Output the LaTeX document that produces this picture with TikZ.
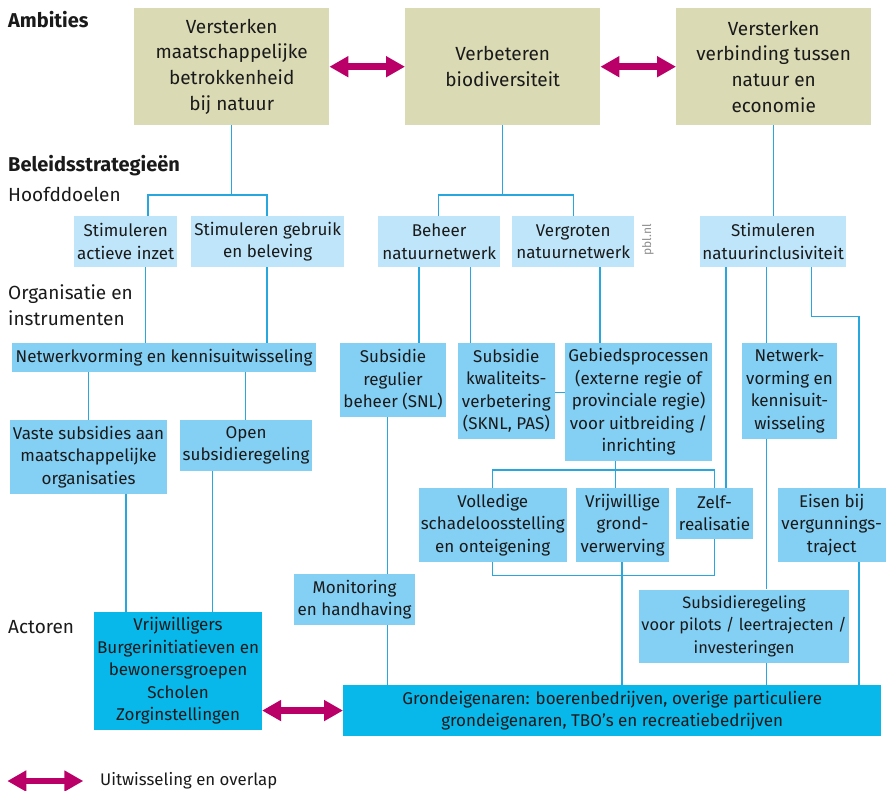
\documentclass[tikz,border=0pt]{standalone}
\usepackage{fontspec}
\setmainfont{Fira Sans}
\usetikzlibrary{arrows.meta}
\definecolor{khaki}{RGB}{218,218,180}
\definecolor{goalblue}{RGB}{190,229,249}
\definecolor{instblue}{RGB}{132,207,244}
\definecolor{actorblue}{RGB}{8,184,234}
\definecolor{linkblue}{RGB}{40,166,222}
\definecolor{exmagenta}{RGB}{186,0,104}
\definecolor{inktext}{RGB}{26,26,26}
\definecolor{creditgrey}{RGB}{140,140,140}

\begin{document}
\begin{tikzpicture}[x=1pt,y=-1pt,
  every node/.style={text=inktext},
  boxbase/.style={anchor=north west, inner sep=0pt, align=center, font=\fontsize{17}{22.5}\selectfont},
  ambbox/.style={boxbase, fill=khaki, font=\fontsize{19}{25.7}\selectfont},
  goalbox/.style={boxbase, fill=goalblue},
  instbox/.style={boxbase, fill=instblue},
  actorbox/.style={boxbase, fill=actorblue},
  link/.style={draw=linkblue, line width=1.4pt},
  exchange/.style={draw=exmagenta, line width=6.5pt,
    {Triangle[length=19pt,width=20pt]}-{Triangle[length=19pt,width=20pt]}},
  rowlabel/.style={anchor=west, inner sep=0pt, align=left, font=\fontsize{19}{26}\selectfont},
  rowhead/.style={rowlabel, font=\bfseries\fontsize{20}{26}\selectfont},
]
\useasboundingbox (0,0) rectangle (889,790);

% row labels
\node[rowhead] (lamb) at (8,20) {Ambities};
\node[rowhead] (lbel) at (8,166) {Beleidsstrategieën};
\node[rowlabel] (lhfd) at (8,194) {Hoofddoelen};
\node[rowlabel] (lorg) at (8,304.7) {Organisatie en\\instrumenten};
\node[rowlabel] (lact) at (8,626.7) {Actoren};

% ambitions
\node[ambbox, minimum width=195, minimum height=117] (amb1) at (134,8)
  {Versterken\\maatschappelijke\\betrokkenheid\\bij natuur};
\node[ambbox, minimum width=195, minimum height=117] (amb2) at (405,8)
  {Verbeteren\\biodiversiteit};
\node[ambbox, minimum width=195, minimum height=117] (amb3) at (676,8)
  {Versterken\\verbinding tussen\\natuur en\\economie};

% main goals
\node[goalbox, minimum width=103, minimum height=51] (hd1) at (74,216) {Stimuleren\\actieve inzet};
\node[goalbox, minimum width=153, minimum height=51] (hd2) at (191,216) {Stimuleren gebruik\\en beleving};
\node[goalbox, minimum width=122, minimum height=51] (hd3) at (378,216) {Beheer\\natuurnetwerk};
\node[goalbox, minimum width=122, minimum height=51] (hd4) at (512,216) {Vergroten\\natuurnetwerk};
\node[goalbox, minimum width=146, minimum height=51] (hd5) at (700,216) {Stimuleren\\natuurinclusiviteit};
\node[rotate=90, inner sep=0pt, text=creditgrey, font=\fontsize{12}{14}\selectfont] (credit) at (648,240) {pbl.nl};

% organisation and instruments
\node[instbox, minimum width=303.7, minimum height=29] (nw1) at (12,342.7) {Netwerkvorming en kennisuitwisseling};
\node[instbox, minimum width=105.7, minimum height=74] (snl) at (340,342.7) {Subsidie\\regulier\\beheer (SNL)};
\node[instbox, minimum width=97.7, minimum height=95.6] (kwal) at (457.3,342.7) {Subsidie\\kwaliteits-\\verbetering\\(SKNL, PAS)};
\node[instbox, minimum width=146.7, minimum height=118] (geb) at (565,342.7)
  {Gebiedsprocessen\\(externe regie of\\provinciale regie)\\voor uitbreiding /\\inrichting};
\node[instbox, minimum width=94.7, minimum height=95.6] (nw2) at (742,342.7) {Netwerk-\\vorming en\\kennisuit-\\wisseling};
\node[instbox, minimum width=156.7, minimum height=73.3] (vaste) at (10,420) {Vaste subsidies aan\\maatschappelijke\\organisaties};
\node[instbox, minimum width=131.7, minimum height=50.7] (open) at (180,420) {Open\\subsidieregeling};
\node[instbox, minimum width=148.4, minimum height=73.7] (voll) at (418.3,488) {Volledige\\schadeloosstelling\\en onteigening};
\node[instbox, minimum width=92.7, minimum height=73.7] (vrijw) at (576,488) {Vrijwillige\\grond-\\verwerving};
\node[instbox, minimum width=76.7, minimum height=50.3] (zelf) at (676,488) {Zelf-\\realisatie};
\node[instbox, minimum width=108.4, minimum height=73.7] (eisen) at (777.3,488) {Eisen bij\\vergunnings-\\traject};
\node[instbox, minimum width=120.7, minimum height=50.7] (mon) at (294,574) {Monitoring\\en handhaving};
\node[instbox, minimum width=209.7, minimum height=73.4, font=\fontsize{16.4}{22.5}\selectfont] (sub) at (639,589.3)
  {Subsidieregeling\\voor pilots / leertrajecten /\\investeringen};

% actors
\node[actorbox, minimum width=167.7, minimum height=117.7] (vrij) at (94,612)
  {Vrijwilligers\\Burgerinitiatieven en\\bewonersgroepen\\Scholen\\Zorginstellingen};
\node[actorbox, minimum width=538, minimum height=50.7] (grond) at (343,685)
  {Grondeigenaren: boerenbedrijven, overige particuliere\\grondeigenaren, TBO's en recreatiebedrijven};

% ambitions to main goals
\draw[link] (amb1.south) -- (amb1.south |- 0,195);
\draw[link] (hd1.north -| 148,0) -- (148,195) -- (267,195) -- (hd2.north -| 267,0);
\draw[link] (amb2.south) -- (amb2.south |- 0,195);
\draw[link] (hd3.north -| 438.7,0) -- (438.7,195) -- (573.7,195) -- (hd4.north -| 573.7,0);
\draw[link] (amb3.south) -- (amb3.south |- hd5.north);

% main goals to instruments
\draw[link] (hd1.south -| 145.7,0) -- (nw1.north -| 145.7,0);
\draw[link] (hd2.south -| 267,0) -- (nw1.north -| 267,0);
\draw[link] (hd3.south -| 419,0) -- (snl.north -| 419,0);
\draw[link] (hd3.south -| 470.7,0) -- (kwal.north -| 470.7,0);
\draw[link] (hd4.south -| 600,0) -- (geb.north -| 600,0);
\draw[link] (hd5.south -| 726,0) -- (zelf.north -| 726,0);
\draw[link] (hd5.south -| 766.3,0) -- (nw2.north -| 766.3,0);
\draw[link] (hd5.south -| 811.7,0) -- (811.7,316.7) -- (859,316.7) -- (eisen.north -| 859,0);

% between instruments
\draw[link] (nw1.south -| 88.7,0) -- (vaste.north -| 88.7,0);
\draw[link] (nw1.south -| 245.7,0) -- (open.north -| 245.7,0);
\draw[link] (snl.south -| 387.7,0) -- (mon.north -| 387.7,0);
\draw[link] (kwal.east |- 0,392.7) -- (geb.west |- 0,392.7);
\draw[link] (geb.south -| 615.7,0) -- (vrijw.north -| 615.7,0);
\draw[link] (voll.north) -- (voll.north |- 0,470) -- (zelf.north |- 0,470) -- (zelf.north);
\draw[link] (voll.south) -- (voll.south |- 0,575.3) -- (zelf.south |- 0,575.3) -- (zelf.south);
\draw[link] (nw2.south -| 766.3,0) -- (sub.north -| 766.3,0);

% instruments to actors
\draw[link] (vaste.south -| 126,0) -- (vrij.north -| 126,0);
\draw[link] (open.south -| 212.7,0) -- (vrij.north -| 212.7,0);
\draw[link] (mon.south -| 387.7,0) -- (grond.north -| 387.7,0);
\draw[link] (vrijw.south -| 622,0) -- (grond.north -| 622,0);
\draw[link] (sub.south -| 766.3,0) -- (grond.north -| 766.3,0);
\draw[link] (eisen.south -| 859,0) -- (grond.north -| 859,0);

% exchange arrows
\draw[exchange] (amb1.east) -- (amb2.west);
\draw[exchange] (amb2.east) -- (amb3.west);
\draw[exchange] (vrij.east |- grond.west) -- (grond.west);

% legend
\coordinate (legA) at (7.3,781);
\coordinate (legB) at (83.3,781);
\draw[exchange] (legA) -- (legB);
\node[anchor=west, inner sep=0pt, font=\fontsize{16.8}{20}\selectfont] (legtext) at (100,781) {Uitwisseling en overlap};
\end{tikzpicture}
\end{document}
